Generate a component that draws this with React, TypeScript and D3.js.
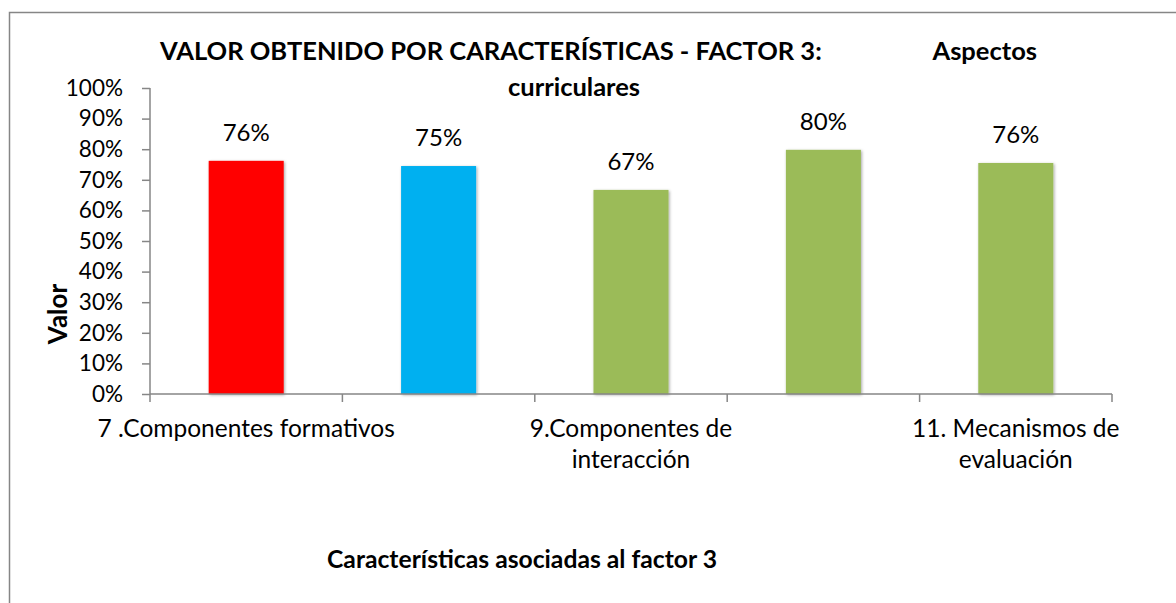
import { useEffect, useRef } from 'react'
import * as d3 from 'd3'

const categories = ['c7', 'c8', 'c9', 'c10', 'c11']
const tickLabels = [
  ['7 .Componentes formativos'],
  [],
  ['9.Componentes de', 'interacción'],
  [],
  ['11. Mecanismos de', 'evaluación'],
]
const values = [0.762, 0.745, 0.667, 0.798, 0.755]
const valueLabels = ['76%', '75%', '67%', '80%', '76%']
const barColors = ['#FF0000', '#00B0F0', '#9BBB59', '#9BBB59', '#9BBB59']
const yTicks = [0, 0.1, 0.2, 0.3, 0.4, 0.5, 0.6, 0.7, 0.8, 0.9, 1]

const W = 1176
const H = 603
const FONT = 'Lato, "Open Sans", sans-serif'

export default function App() {
  const ref = useRef<SVGSVGElement>(null)

  useEffect(() => {
    const svg = d3.select(ref.current)
    svg.selectAll('*').remove()

    const left = 150
    const right = 1112
    const top = 88
    const bottom = 394
    const axisColor = '#868686'

    const x = d3.scaleBand<string>().domain(categories).range([left, right]).paddingInner(0.61).paddingOuter(0.305)
    const y = d3.scaleLinear().domain([0, 1]).range([bottom, top])

    const defs = svg.append('defs')
    const f = defs.append('filter').attr('id', 'barShadow').attr('x', '-20%').attr('y', '-10%').attr('width', '140%').attr('height', '120%')
    f.append('feDropShadow').attr('dx', 1).attr('dy', 1).attr('stdDeviation', 1.6).attr('flood-color', '#000').attr('flood-opacity', 0.35)

    // frame
    svg.append('rect').attr('x', 9.5).attr('y', 12.5).attr('width', W + 20).attr('height', H + 20)
      .attr('fill', '#fff').attr('stroke', '#868686').attr('stroke-width', 1.5)

    // title
    const title = svg.append('g').attr('font-family', FONT).attr('font-weight', 700).attr('font-size', 25.5).attr('fill', '#000')
    title.append('text').attr('x', 160).attr('y', 60).text('VALOR OBTENIDO POR CARACTERÍSTICAS - FACTOR 3:')
    title.append('text').attr('x', 1037).attr('y', 60).attr('text-anchor', 'end').text('Aspectos')
    title.append('text').attr('x', 574).attr('y', 96).attr('text-anchor', 'middle').text('curriculares')

    // bars
    svg.append('g').selectAll('rect')
      .data(values)
      .enter().append('rect')
      .attr('x', (_, i) => x(categories[i])!)
      .attr('y', (d) => y(d))
      .attr('width', x.bandwidth())
      .attr('height', (d) => bottom - y(d))
      .attr('fill', (_, i) => barColors[i])
      .attr('filter', 'url(#barShadow)')

    // value labels
    svg.append('g').attr('font-family', FONT).attr('font-size', 24).attr('fill', '#000')
      .selectAll('text')
      .data(values)
      .enter().append('text')
      .attr('x', (_, i) => x(categories[i])! + x.bandwidth() / 2)
      .attr('y', (d) => y(d) - 20)
      .attr('text-anchor', 'middle')
      .text((_, i) => valueLabels[i])

    // y axis
    const yAxis = svg.append('g').attr('transform', `translate(${left},0)`)
      .call(d3.axisLeft(y).tickValues(yTicks).tickSize(8).tickPadding(19).tickFormat(d3.format('.0%')))
    yAxis.select('.domain').attr('stroke', axisColor).attr('stroke-width', 1.5).attr('d', `M0,${top}V${bottom}`)
    yAxis.selectAll('.tick line').attr('stroke', axisColor).attr('stroke-width', 1.5)
    yAxis.selectAll('.tick text').attr('font-family', FONT).attr('font-size', 22.5).attr('fill', '#000')

    // x axis
    const step = x.step()
    const bounds = categories.map((c) => x(c)! - (step * x.paddingInner()) / 2).concat([right])
    const xAxis = svg.append('g')
    xAxis.append('line').attr('x1', left).attr('x2', right).attr('y1', bottom).attr('y2', bottom)
      .attr('stroke', axisColor).attr('stroke-width', 1.5)
    xAxis.selectAll('line.tick').data(bounds).enter().append('line').attr('class', 'tick')
      .attr('x1', (d) => d).attr('x2', (d) => d).attr('y1', bottom).attr('y2', bottom + 8)
      .attr('stroke', axisColor).attr('stroke-width', 1.5)
    const lbl = xAxis.selectAll('text.cat').data(tickLabels).enter().append('text').attr('class', 'cat')
      .attr('font-family', FONT).attr('font-size', 24.5).attr('fill', '#000').attr('text-anchor', 'middle')
      .attr('transform', (_, i) => `translate(${x(categories[i])! + x.bandwidth() / 2},${bottom + 43})`)
    lbl.selectAll('tspan').data((d) => d).enter().append('tspan')
      .attr('x', 0).attr('y', (_, j) => j * 31).text((d) => d)

    // axis titles
    svg.append('text').attr('font-family', FONT).attr('font-weight', 700).attr('font-size', 26)
      .attr('transform', 'translate(67,314) rotate(-90)').attr('text-anchor', 'middle').text('Valor')
    svg.append('text').attr('font-family', FONT).attr('font-weight', 700).attr('font-size', 24.7)
      .attr('x', 522).attr('y', 568).attr('text-anchor', 'middle').text('Características asociadas al factor 3')
  }, [])

  return (
    <svg ref={ref} width={W} height={H} style={{ position: 'absolute', left: 0, top: 0, background: '#fff' }} />
  )
}
